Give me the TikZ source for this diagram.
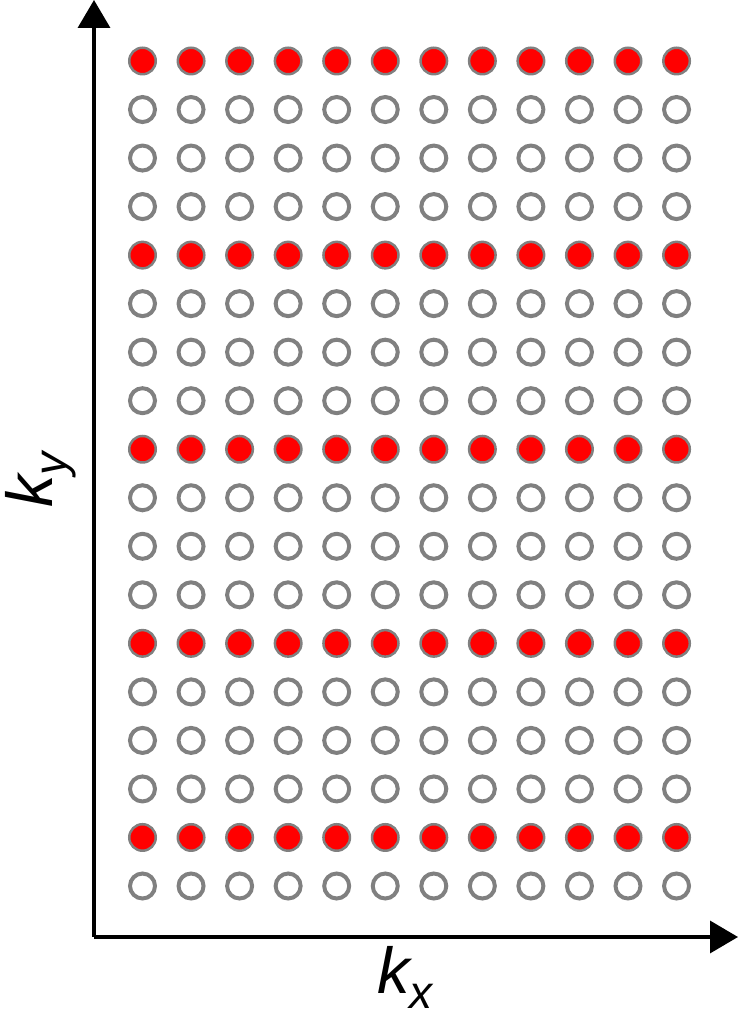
\documentclass[tikz,border=0pt]{standalone}
\usepackage{fontspec}
\setmainfont{Liberation Sans}
\usetikzlibrary{arrows.meta}
\tikzset{
  sample/.style={circle, draw=gray, inner sep=0pt},
  taken/.style={sample, fill=red, line width=2.5pt, minimum size=26.5pt},
  skipped/.style={sample, fill=white, line width=4pt, minimum size=25pt},
  axis/.style={line width=3.5pt, -{Triangle[width=32pt,length=28pt]}},
  axislabel/.style={inner sep=0pt, font=\fontsize{65}{65}\selectfont\itshape}
}
\newcommand{\subsc}[1]{\raisebox{-14pt}{\fontsize{46}{46}\selectfont #1}}
\begin{document}
\begin{tikzpicture}[x=1pt,y=1pt]
  \useasboundingbox (0,0) rectangle (738,1020);
  \coordinate (O) at (94,83);
  \coordinate (Y) at (94,1020);
  \coordinate (X) at (738,83);

  % axes
  \draw[axis] (O) -- (Y);
  \draw[axis] (O) -- (X);
  \node[axislabel, anchor=base west] (kx) at (377,26) {k\subsc{x}};
  \node[axislabel, rotate=90, anchor=base west] (ky) at (52,512) {k\subsc{y}};

  % k-space samples, every fourth line acquired
  \foreach \r in {0,...,17} {
    \foreach \c in {0,...,11} {
      \pgfmathtruncatemacro{\m}{mod(\r,4)}
      \ifnum\m=0
        \node[taken] (p-\r-\c) at ({142.5+48.55*\c},{959-48.53*\r}) {};
      \else
        \node[skipped] (p-\r-\c) at ({142.5+48.55*\c},{959-48.53*\r}) {};
      \fi
    }
  }
\end{tikzpicture}
\end{document}
